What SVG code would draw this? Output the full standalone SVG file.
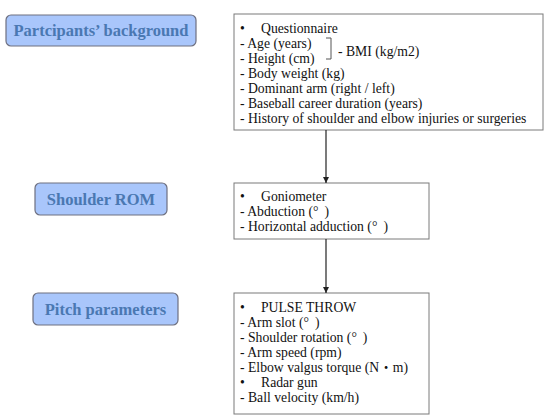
<svg xmlns="http://www.w3.org/2000/svg" width="550" height="415" viewBox="0 0 550 415">
<defs>
<style>
.lbl rect{fill:#a9c6fb;stroke:#6e7080;stroke-width:1.2}
.lbl text{font-family:"Liberation Serif","DejaVu Serif",serif;font-weight:bold;font-size:16.5px;fill:#4a78b2;text-anchor:middle}
.box rect{fill:#fff;stroke:#7a7a7a;stroke-width:1}
.box text{font-family:"Liberation Serif","Noto Sans CJK JP",serif;font-size:13.7px;fill:#111}
.conn line,.conn path{stroke:#222;stroke-width:1.2;fill:none}
</style>
<marker id="ah" viewBox="0 0 10 10" refX="10" refY="5" markerWidth="6" markerHeight="6" orient="auto" markerUnits="userSpaceOnUse">
<path d="M0,0 L10,5 L0,10 z" fill="#222"/>
</marker>
</defs>
<rect width="550" height="415" fill="#fff"/>
<g id="label-background" class="lbl">
<rect x="6" y="15" width="190" height="31" rx="5"/>
<text x="101" y="36">Partcipants’ background</text>
</g>
<g id="label-rom" class="lbl">
<rect x="35" y="183" width="132" height="32" rx="5"/>
<text x="101" y="205">Shoulder ROM</text>
</g>
<g id="label-pitch" class="lbl">
<rect x="33" y="293" width="145" height="32" rx="5"/>
<text x="105.5" y="315">Pitch parameters</text>
</g>
<g id="box-questionnaire" class="box">
<rect x="234" y="14" width="309" height="116"/>
<text x="240" y="33">•</text><text x="261" y="33">Questionnaire</text>
<text x="240" y="48">- Age (years)</text>
<text x="240" y="63">- Height (cm)</text>
<path d="M326,38 H331 V59 H326" fill="none" stroke="#555" stroke-width="1"/>
<text x="338" y="56">- BMI (kg/m2)</text>
<text x="240" y="78">- Body weight (kg)</text>
<text x="240" y="93">- Dominant arm (right / left)</text>
<text x="240" y="108">- Baseball career duration (years)</text>
<text x="240" y="123">- History of shoulder and elbow injuries or surgeries</text>
</g>
<g id="box-goniometer" class="box">
<rect x="234" y="183" width="195" height="56"/>
<text x="240" y="201">•</text><text x="261" y="201">Goniometer</text>
<text x="240" y="216">- Abduction (°<tspan dx="6">)</tspan></text>
<text x="240" y="231">- Horizontal adduction (°<tspan dx="6">)</tspan></text>
</g>
<g id="box-pitch" class="box">
<rect x="234" y="293" width="195" height="121"/>
<text x="240" y="312">•</text><text x="261" y="312">PULSE THROW</text>
<text x="240" y="327">- Arm slot (°<tspan dx="6">)</tspan></text>
<text x="240" y="342">- Shoulder rotation (°<tspan dx="6">)</tspan></text>
<text x="240" y="357">- Arm speed (rpm)</text>
<text x="240" y="372">- Elbow valgus torque (N・m)</text>
<text x="240" y="387">•</text><text x="261" y="387">Radar gun</text>
<text x="240" y="402">- Ball velocity (km/h)</text>
</g>
<g id="connectors" class="conn">
<line x1="326" y1="130" x2="326" y2="183" marker-end="url(#ah)"/>
<line x1="326" y1="239" x2="326" y2="293" marker-end="url(#ah)"/>
</g>
</svg>
